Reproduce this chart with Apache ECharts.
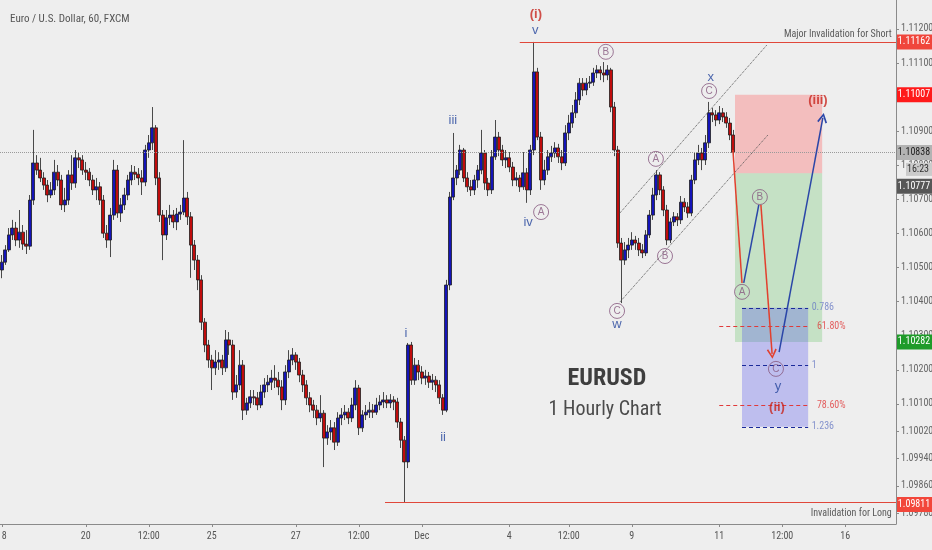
<!DOCTYPE html>
<html><head><meta charset="utf-8">
<script src="https://cdn.jsdelivr.net/npm/echarts@6/dist/echarts.min.js"></script>
<style>html,body{margin:0;padding:0;background:#eeeeee;}#c{width:932px;height:550px;}</style>
</head><body><div id="c"></div>
<script>
// ---------- data ----------
const chartTitle = 'Euro / U.S. Dollar, 60, FXCM';
const slotCount = 256;               // hourly slots on the category axis (incl. empty future space)
const xTickIdx  = [0, 24, 42, 60, 84, 102, 120, 145, 162, 180, 205, 223, 241];
const xTickText = ['18', '20', '12:00', '25', '27', '12:00', 'Dec', '4', '12:00', '9', '11', '12:00', '16'];
const yMin = 1.09748, yMax = 1.11285;
const yTickValues = [1.112, 1.111, 1.110, 1.109, 1.108, 1.107, 1.106, 1.105, 1.104, 1.103, 1.102, 1.101, 1.1002, 1.0994, 1.0986, 1.0978];

// [open, close, low, high]
const ohlc = [
[1.10493,1.10516,1.10469,1.10537],[1.10516,1.10552,1.10508,1.10566],[1.10552,1.10596,1.10546,1.10616],[1.10596,1.10616,1.10581,1.10640],[1.10616,1.10581,1.10563,1.10634],
[1.10581,1.10604,1.10558,1.10669],[1.10604,1.10569,1.10552,1.10625],[1.10569,1.10563,1.10540,1.10610],[1.10563,1.10698,1.10552,1.10713],[1.10698,1.10807,1.10684,1.10904],
[1.10807,1.10786,1.10772,1.10830],[1.10786,1.10763,1.10751,1.10822],[1.10763,1.10742,1.10728,1.10780],[1.10742,1.10713,1.10692,1.10757],[1.10713,1.10728,1.10704,1.10751],
[1.10728,1.10780,1.10713,1.10816],[1.10780,1.10757,1.10739,1.10801],[1.10757,1.10684,1.10669,1.10772],[1.10684,1.10698,1.10663,1.10734],[1.10698,1.10772,1.10684,1.10786],
[1.10772,1.10748,1.10728,1.10830],[1.10748,1.10822,1.10734,1.10845],[1.10822,1.10816,1.10792,1.10839],[1.10816,1.10786,1.10772,1.10830],[1.10786,1.10780,1.10757,1.10810],
[1.10780,1.10757,1.10739,1.10792],[1.10757,1.10728,1.10713,1.10772],[1.10728,1.10737,1.10698,1.10763],[1.10737,1.10698,1.10684,1.10751],[1.10698,1.10601,1.10587,1.10713],
[1.10601,1.10581,1.10558,1.10625],[1.10581,1.10654,1.10531,1.10675],[1.10654,1.10786,1.10640,1.10816],[1.10786,1.10660,1.10646,1.10801],[1.10660,1.10684,1.10634,1.10704],
[1.10684,1.10713,1.10669,1.10734],[1.10713,1.10757,1.10698,1.10772],[1.10757,1.10780,1.10742,1.10801],[1.10780,1.10774,1.10757,1.10798],[1.10774,1.10763,1.10742,1.10792],
[1.10763,1.10751,1.10713,1.10786],[1.10751,1.10845,1.10739,1.10860],[1.10845,1.10866,1.10822,1.10889],[1.10866,1.10910,1.10845,1.10971],[1.10910,1.10763,1.10742,1.10918],
[1.10763,1.10654,1.10634,1.10780],[1.10654,1.10596,1.10522,1.10669],[1.10596,1.10646,1.10581,1.10669],[1.10646,1.10654,1.10625,1.10684],[1.10654,1.10634,1.10616,1.10669],
[1.10634,1.10657,1.10610,1.10675],[1.10657,1.10663,1.10640,1.10684],[1.10663,1.10704,1.10654,1.10874],[1.10704,1.10649,1.10625,1.10722],[1.10649,1.10566,1.10470,1.10663],
[1.10566,1.10522,1.10493,1.10581],[1.10522,1.10464,1.10434,1.10537],[1.10464,1.10340,1.10317,1.10478],[1.10340,1.10273,1.10252,1.10352],[1.10273,1.10229,1.10206,1.10288],
[1.10229,1.10206,1.10141,1.10244],[1.10206,1.10223,1.10185,1.10258],[1.10223,1.10229,1.10200,1.10252],[1.10229,1.10206,1.10185,1.10244],[1.10206,1.10288,1.10194,1.10317],
[1.10288,1.10273,1.10244,1.10311],[1.10273,1.10135,1.10112,1.10288],[1.10135,1.10156,1.10118,1.10185],[1.10156,1.10214,1.10141,1.10258],[1.10214,1.10082,1.10053,1.10229],
[1.10082,1.10103,1.10068,1.10118],[1.10103,1.10121,1.10088,1.10141],[1.10121,1.10118,1.10097,1.10141],[1.10118,1.10097,1.10082,1.10135],[1.10097,1.10135,1.10088,1.10156],
[1.10135,1.10156,1.10118,1.10176],[1.10156,1.10164,1.10135,1.10185],[1.10164,1.10176,1.10141,1.10200],[1.10176,1.10170,1.10147,1.10214],[1.10170,1.10150,1.10126,1.10194],
[1.10150,1.10112,1.10082,1.10170],[1.10112,1.10194,1.10097,1.10214],[1.10194,1.10229,1.10176,1.10258],[1.10229,1.10244,1.10214,1.10264],[1.10244,1.10223,1.10200,1.10252],
[1.10223,1.10185,1.10164,1.10235],[1.10185,1.10156,1.10135,1.10200],[1.10156,1.10118,1.10097,1.10170],[1.10118,1.10097,1.10076,1.10135],[1.10097,1.10082,1.10059,1.10112],
[1.10082,1.10059,1.10038,1.10097],[1.10059,1.10073,1.10047,1.10126],[1.10073,1.10000,1.09915,1.10082],[1.10000,1.10018,1.09980,1.10038],[1.10018,1.10030,1.09994,1.10053],
[1.10030,1.09988,1.09965,1.10047],[1.09988,1.10059,1.09977,1.10076],[1.10059,1.10068,1.10038,1.10088],[1.10068,1.10076,1.10053,1.10097],[1.10076,1.10059,1.10041,1.10088],
[1.10059,1.10097,1.10047,1.10118],[1.10097,1.10147,1.10082,1.10170],[1.10147,1.10030,1.10009,1.10156],[1.10030,1.10068,1.10018,1.10082],[1.10068,1.10076,1.10053,1.10097],
[1.10076,1.10082,1.10059,1.10106],[1.10082,1.10076,1.10059,1.10100],[1.10076,1.10097,1.10068,1.10118],[1.10097,1.10106,1.10082,1.10126],[1.10106,1.10112,1.10088,1.10135],
[1.10112,1.10103,1.10088,1.10126],[1.10103,1.10112,1.10088,1.10129],[1.10112,1.10106,1.10082,1.10123],[1.10106,1.10047,1.10030,1.10118],[1.10047,1.09994,1.09971,1.10059],
[1.09994,1.09930,1.09811,1.10006],[1.09930,1.10273,1.09912,1.10279],[1.10273,1.10170,1.10156,1.10282],[1.10170,1.10214,1.10156,1.10235],[1.10214,1.10194,1.10170,1.10229],
[1.10194,1.10176,1.10158,1.10211],[1.10176,1.10182,1.10156,1.10200],[1.10182,1.10164,1.10147,1.10194],[1.10164,1.10170,1.10141,1.10188],[1.10170,1.10156,1.10135,1.10182],
[1.10156,1.10118,1.10100,1.10170],[1.10118,1.10082,1.10068,1.10129],[1.10082,1.10449,1.10076,1.10464],[1.10449,1.10707,1.10434,1.10722],[1.10707,1.10763,1.10698,1.10895],
[1.10763,1.10786,1.10742,1.10801],[1.10786,1.10845,1.10772,1.10860],[1.10845,1.10763,1.10751,1.10851],[1.10763,1.10737,1.10722,1.10780],[1.10737,1.10728,1.10710,1.10757],
[1.10728,1.10757,1.10713,1.10772],[1.10757,1.10786,1.10734,1.10801],[1.10786,1.10836,1.10774,1.10904],[1.10836,1.10748,1.10728,1.10845],[1.10748,1.10728,1.10710,1.10763],
[1.10728,1.10825,1.10716,1.10845],[1.10825,1.10883,1.10816,1.10933],[1.10883,1.10845,1.10827,1.10898],[1.10845,1.10816,1.10798,1.10860],[1.10816,1.10822,1.10792,1.10845],
[1.10822,1.10795,1.10780,1.10839],[1.10795,1.10757,1.10739,1.10810],[1.10757,1.10763,1.10739,1.10780],[1.10763,1.10737,1.10722,1.10772],[1.10737,1.10778,1.10728,1.10839],
[1.10778,1.10728,1.10690,1.10792],[1.10728,1.10845,1.10713,1.10860],[1.10845,1.11074,1.10830,1.11162],[1.11074,1.10883,1.10874,1.11086],[1.10883,1.10757,1.10728,1.10898],
[1.10757,1.10786,1.10742,1.10816],[1.10786,1.10825,1.10772,1.10845],[1.10825,1.10836,1.10810,1.10857],[1.10836,1.10851,1.10822,1.10868],[1.10851,1.10825,1.10807,1.10863],
[1.10825,1.10807,1.10786,1.10845],[1.10807,1.10895,1.10798,1.10918],[1.10895,1.10924,1.10874,1.10948],[1.10924,1.10954,1.10910,1.10977],[1.10954,1.10992,1.10939,1.11015],
[1.10992,1.11041,1.10977,1.11056],[1.11041,1.11021,1.11003,1.11056],[1.11021,1.11041,1.11006,1.11056],[1.11041,1.11044,1.11027,1.11062],[1.11044,1.11071,1.11033,1.11086],
[1.11071,1.11080,1.11056,1.11094],[1.11080,1.11071,1.11050,1.11091],[1.11071,1.11065,1.11044,1.11103],[1.11065,1.11080,1.11050,1.11094],[1.11080,1.10971,1.10956,1.11086],
[1.10971,1.10845,1.10827,1.10986],[1.10845,1.10572,1.10558,1.10857],[1.10572,1.10522,1.10396,1.10587],[1.10522,1.10552,1.10508,1.10575],[1.10552,1.10566,1.10528,1.10587],
[1.10566,1.10581,1.10552,1.10604],[1.10581,1.10572,1.10552,1.10593],[1.10572,1.10552,1.10534,1.10587],[1.10552,1.10543,1.10528,1.10569],[1.10543,1.10596,1.10534,1.10610],
[1.10596,1.10654,1.10587,1.10669],[1.10654,1.10713,1.10640,1.10734],[1.10713,1.10772,1.10698,1.10786],[1.10772,1.10728,1.10713,1.10780],[1.10728,1.10669,1.10651,1.10739],
[1.10669,1.10581,1.10566,1.10684],[1.10581,1.10634,1.10572,1.10646],[1.10634,1.10649,1.10622,1.10663],[1.10649,1.10640,1.10622,1.10660],[1.10640,1.10692,1.10628,1.10710],
[1.10692,1.10678,1.10663,1.10704],[1.10678,1.10660,1.10646,1.10692],[1.10660,1.10757,1.10651,1.10772],[1.10757,1.10816,1.10745,1.10839],[1.10816,1.10836,1.10801,1.10860],
[1.10836,1.10816,1.10786,1.10851],[1.10816,1.10866,1.10801,1.10889],[1.10866,1.10954,1.10851,1.10986],[1.10954,1.10948,1.10927,1.10968],[1.10948,1.10933,1.10915,1.10962],
[1.10933,1.10954,1.10921,1.10974],[1.10954,1.10942,1.10927,1.10968],[1.10942,1.10924,1.10910,1.10956],[1.10924,1.10889,1.10874,1.10939],[1.10889,1.10838,1.10827,1.10904]
];

const lastPrice = 1.10838;
const shortInvalid = [148, 1.11162];        // [from slot, price]
const longInvalid  = [109.5, 1.09811];
const channelUpper = [[176.6, 1.10660], [218.6, 1.11153]];
const channelLower = [[176.6, 1.10399], [218.9, 1.10889]];
const pathRed1  = [[208.9, 1.10845], [211.5, 1.10455]];
const pathBlue1 = [[212.0, 1.10455], [216.3, 1.10684]];
const pathRed2  = [[216.9, 1.10684], [220.1, 1.10247]];
const pathBlue2 = [[222.1, 1.10252], [234.6, 1.10939]];
const zoneShort = [209.5, 234.4, 1.11007, 1.10777];
const zoneLong  = [209.5, 234.4, 1.10777, 1.10282];
const zoneFib   = [211.5, 230.4, 1.10382, 1.10033];
const fibBlue = [['0.786', 1.10382], ['1', 1.10214], ['1.236', 1.10033]];
const fibBlueSpan = [211.5, 230.4];
const fibRed = [['61.80%', 1.10328], ['78.60%', 1.10097]];
const fibRedSpan = [205, 230.4];
const waveBlue = [['v',152.4,1.11197],['iii',128.9,1.10933],['iv',150.4,1.10634],['w',175.8,1.10332],['x',202.6,1.11059],['i',115.5,1.10308],['ii',126.1,1.10003],['y',221.8,1.10153]];
const waveRed = [['(i)',152.6,1.11244],['(ii)',221.5,1.10091],['(iii)',233.2,1.10989]];
const waveCircled = [['A',154.1,1.10663],['B',172.6,1.11133],['C',175.8,1.10373],['A',186.9,1.10819],['B',189.5,1.10534],['C',202.1,1.11018],['A',211.5,1.10429],['B',216.6,1.10707],['C',221.2,1.10203]];
const bigTitle = ['EURUSD', 172.9, 1.10173];
const subTitle = ['1 Hourly Chart', 172.4, 1.10082];
const noteShort = ['Major Invalidation for Short', 254.3, 1.11185];
const noteLong  = ['Invalidation for Long', 254.3, 1.09780];
const tagValues = [1.11162, 1.11007, 1.10838, 1.10777, 1.10282, 1.09811];
const countdown = '16:23';

// ---------- chart ----------
const NARROW = "'Liberation Sans Narrow','Roboto Condensed','DejaVu Sans Condensed',sans-serif";
const SANS = "'Liberation Sans',Arial,sans-serif";
const categories = Array.from({length: slotCount}, (_, i) => String(i));
const isTick = (i) => xTickIdx.indexOf(i) >= 0;
const arrowPath = 'path://M5,0 L10,9 L8.6,10 L5,3.2 L1.4,10 L0,9 Z';

const chart = echarts.init(document.getElementById('c'), null, {renderer: 'canvas'});

const ml = [];
const seg = (a, b, style, arrow) => {
  const end = {coord: b};
  if (arrow) { end.symbol = arrowPath; end.symbolSize = [10, 10]; }
  ml.push([{coord: a, lineStyle: style}, end]);
};
seg([-0.5, lastPrice], [slotCount - 0.5, lastPrice], {color: '#9a9a9a', type: 'dotted', width: 1});
seg([shortInvalid[0], shortInvalid[1]], [slotCount - 0.5, shortInvalid[1]], {color: '#e0473a', type: 'solid', width: 1.2});
seg([longInvalid[0], longInvalid[1]], [slotCount - 0.5, longInvalid[1]], {color: '#e0473a', type: 'solid', width: 1.2});
seg(channelUpper[0], channelUpper[1], {color: '#555', type: 'dotted', width: 1});
seg(channelLower[0], channelLower[1], {color: '#555', type: 'dotted', width: 1});
fibBlue.forEach(f => seg([fibBlueSpan[0], f[1]], [fibBlueSpan[1], f[1]], {color: '#1a2a9a', type: [4, 3], width: 1.2}));
fibRed.forEach(f => seg([fibRedSpan[0], f[1]], [fibRedSpan[1], f[1]], {color: '#e03a3a', type: [4, 3], width: 1.2}));
seg(pathRed1[0], pathRed1[1], {color: '#e2402e', type: 'solid', width: 1.5});
seg(pathBlue1[0], pathBlue1[1], {color: '#2a46a8', type: 'solid', width: 1.5});
seg(pathRed2[0], pathRed2[1], {color: '#e2402e', type: 'solid', width: 1.5}, true);
seg(pathBlue2[0], pathBlue2[1], {color: '#2a46a8', type: 'solid', width: 1.5}, true);

const zone = (z, color) => [{coord: [z[0], z[2]], itemStyle: {color}}, {coord: [z[1], z[3]]}];

function textSeries(items, label, z) {
  return {
    type: 'scatter', xAxisIndex: 1, yAxisIndex: 0, symbolSize: 0, silent: true, z: z || 10,
    data: items.map(d => ({name: d[0], value: [d[1], d[2]]})),
    label: Object.assign({show: true, position: 'inside', formatter: p => p.name}, label)
  };
}

const option = {
  backgroundColor: '#eeeeee',
  animation: false,
  title: {text: chartTitle, left: 5, top: 9, textStyle: {color: '#555', fontSize: 11, fontWeight: 'normal', fontFamily: NARROW}},
  grid: {left: 0, right: 36, top: 0, bottom: 26, containLabel: false, outerBoundsMode: 'none'},
  xAxis: [{
    type: 'category', data: categories, boundaryGap: true,
    axisLine: {show: true, onZero: false, lineStyle: {color: '#8a8a8a'}},
    axisTick: {show: true, alignWithLabel: true, interval: (i) => isTick(i), length: 3, lineStyle: {color: '#8a8a8a'}},
    axisLabel: {interval: (i) => isTick(i), formatter: (v, i) => xTickText[xTickIdx.indexOf(i)] || '', color: '#555', fontSize: 10, fontFamily: NARROW, margin: 7},
    splitLine: {show: false}
  }, {
    type: 'value', min: -0.5, max: slotCount - 0.5, show: false,
    axisLine: {onZero: false}, splitLine: {show: false}
  }],
  yAxis: [{
    type: 'value', position: 'right', min: yMin, max: yMax, scale: true,
    splitLine: {show: false},
    axisLine: {show: true, onZero: false, lineStyle: {color: '#8a8a8a'}},
    axisTick: {show: true, customValues: yTickValues, length: 3, lineStyle: {color: '#8a8a8a'}},
    axisLabel: {customValues: yTickValues, formatter: v => v.toFixed(5), color: '#666', fontSize: 10, fontFamily: NARROW, margin: 5}
  }],
  series: [
    {
      type: 'candlestick', xAxisIndex: 0, yAxisIndex: 0, data: ohlc, barWidth: 3.4, z: 3,
      itemStyle: {color: '#1414b8', color0: '#c00c0c', borderColor: '#1e1e1e', borderColor0: '#1e1e1e', borderWidth: 0.8}
    },
    {
      type: 'line', xAxisIndex: 1, yAxisIndex: 0, data: [[0, lastPrice]], showSymbol: false, silent: true,
      lineStyle: {opacity: 0}, z: 2,
      markArea: {silent: true, label: {show: false}, data: [
        zone(zoneShort, 'rgba(255,90,90,0.32)'),
        zone(zoneLong, 'rgba(60,180,60,0.23)'),
        zone(zoneFib, 'rgba(80,80,238,0.30)')
      ]},
      markLine: {silent: true, symbol: ['none', 'none'], label: {show: false}, emphasis: {disabled: true}, data: ml, z: 5}
    },
    textSeries(waveBlue, {color: '#24459c', fontSize: 13, fontFamily: SANS}),
    textSeries(waveRed, {color: '#c8261e', fontSize: 13, fontFamily: SANS, fontWeight: 'bold'}),
    {
      type: 'scatter', xAxisIndex: 1, yAxisIndex: 0, symbol: 'circle', symbolSize: 15, silent: true, z: 11,
      itemStyle: {color: 'rgba(0,0,0,0)', borderColor: '#86587e', borderWidth: 1},
      data: waveCircled.map(d => ({name: d[0], value: [d[1], d[2]]})),
      label: {show: true, position: 'inside', formatter: p => p.name, color: '#86587e', fontSize: 10, fontFamily: SANS}
    },
    textSeries([bigTitle], {color: '#111', fontSize: 24, fontWeight: 'bold', fontFamily: NARROW}),
    textSeries([subTitle], {color: '#222', fontSize: 20, fontFamily: NARROW}),
    textSeries([noteShort, noteLong], {color: '#333', fontSize: 10, fontFamily: NARROW, align: 'right'}),
    textSeries(fibBlue.map(f => [f[0], 231.4, f[1]]), {color: '#6a7cc4', fontSize: 10, fontFamily: NARROW, align: 'left'}),
    textSeries(fibRed.map(f => [f[0], 232.9, f[1]]), {color: '#e03a3a', fontSize: 10, fontFamily: NARROW, align: 'left'})
  ]
};
chart.setOption(option);

// price tags on the right axis
const tagStyle = [
  {bg: '#f0463c', fg: '#fff', dy: 0},
  {bg: '#ff1a1a', fg: '#fff', dy: 0},
  {bg: '#b3b3b3', fg: '#222', dy: 0},
  {bg: '#575757', fg: '#fff', dy: 13},
  {bg: '#1f9b2a', fg: '#fff', dy: 0},
  {bg: '#f2473b', fg: '#fff', dy: 2}
];
const gx = chart.convertToPixel({xAxisIndex: 1}, slotCount - 0.5);
const graphics = [];
tagValues.forEach((v, k) => {
  const py = chart.convertToPixel({yAxisIndex: 0}, v) + tagStyle[k].dy;
  graphics.push({type: 'rect', z: 100, shape: {x: gx + 1, y: py - 7.5, width: 40, height: 15}, style: {fill: tagStyle[k].bg}});
  graphics.push({type: 'text', z: 101, style: {text: v.toFixed(5), x: gx + 18, y: py, align: 'center', verticalAlign: 'middle', fill: tagStyle[k].fg, fontSize: 10, fontFamily: NARROW}});
});
const cdY = chart.convertToPixel({yAxisIndex: 0}, lastPrice) + 17;
graphics.push({type: 'rect', z: 100, shape: {x: gx + 10, y: cdY - 6.5, width: 30, height: 13}, style: {fill: '#cbcbcb'}});
graphics.push({type: 'text', z: 101, style: {text: countdown, x: gx + 22, y: cdY, align: 'center', verticalAlign: 'middle', fill: '#333', fontSize: 10, fontFamily: NARROW}});
chart.setOption({graphic: graphics});
</script>
</body></html>
